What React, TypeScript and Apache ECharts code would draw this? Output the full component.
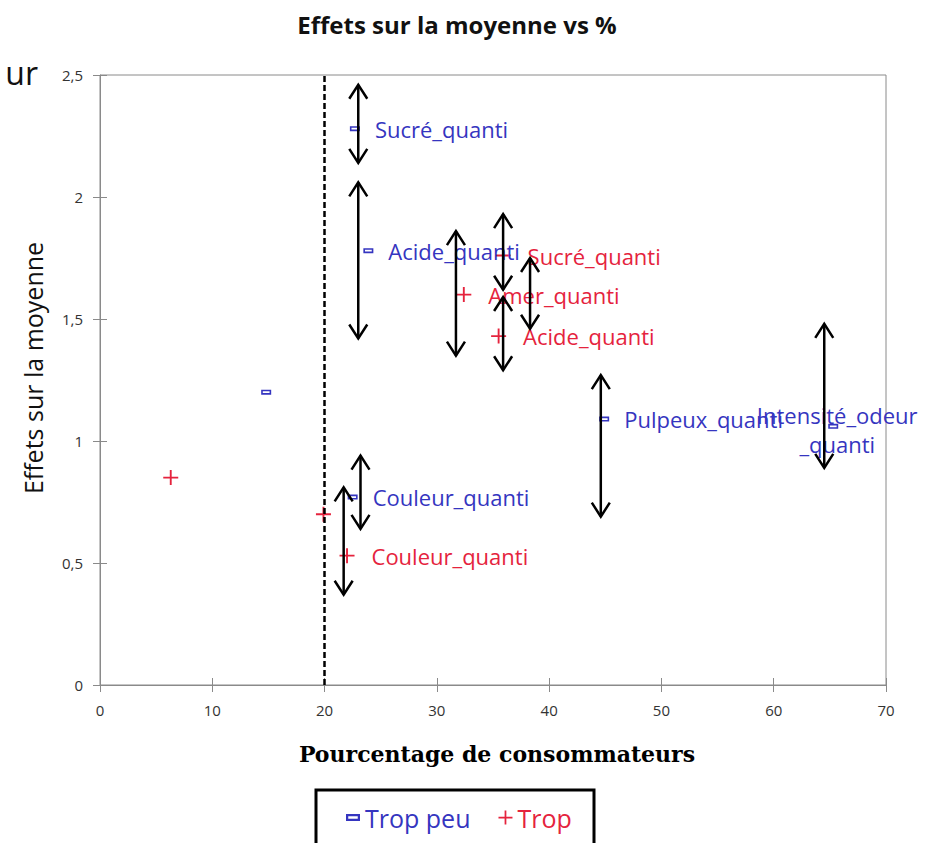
import React, { useEffect, useRef } from "react";
import * as echarts from "echarts";

// ---- Data ----
const tropPeuNames = ["", "Sucré_quanti", "Acide_quanti", "Couleur_quanti", "Pulpeux_quanti", "Intensité_odeur\n_quanti"];
const tropPeuX = [14.8, 22.7, 23.9, 22.5, 44.9, 65.3];
const tropPeuY = [1.2, 2.28, 1.78, 0.77, 1.09, 1.06];

const tropNames = ["", "", "Couleur_quanti", "Amer_quanti", "Acide_quanti", "Sucré_quanti"];
const tropX = [6.3, 19.9, 22.0, 32.4, 35.5, 35.9];
const tropY = [0.85, 0.7, 0.53, 1.6, 1.43, 1.76];

// double-headed arrows: x, top value, bottom value
const arrowX = [23.0, 23.0, 31.7, 35.9, 35.9, 38.3, 44.6, 64.5, 23.2, 21.7];
const arrowTop = [2.46, 2.06, 1.86, 1.93, 1.59, 1.75, 1.27, 1.48, 0.94, 0.81];
const arrowBottom = [2.14, 1.42, 1.35, 1.62, 1.29, 1.46, 0.69, 0.89, 0.64, 0.37];

const thresholdX = 20;

const seriesNames = ["Trop peu", "Trop"];
const xMin = 0, xMax = 70, xStep = 10;
const yMin = 0, yMax = 2.5, yStep = 0.5;

const BLUE = "#3535c0";
const RED = "#e5233d";
const RECT_PATH = "path://M0,0h10v5h-10z M1.6,1.6v1.8h6.8v-1.8z";
const PLUS_PATH = "path://M0,7h16v2h-16z M7,0h2v16h-2z";

export default function App() {
  const ref = useRef<HTMLDivElement>(null);

  useEffect(() => {
    if (!ref.current) return;
    const chart = echarts.init(ref.current, null, { renderer: "svg" });

    const tropPeuData = tropPeuX.map((x, i) => {
      const item: any = { name: tropPeuNames[i], value: [x, tropPeuY[i]] };
      if (tropPeuNames[i].indexOf("\n") >= 0) {
        item.label = { position: "inside", offset: [4, 3], align: "center", lineHeight: 29 };
      }
      return item;
    });
    const tropData = tropX.map((x, i) => ({ name: tropNames[i], value: [x, tropY[i]] }));
    const arrowData = arrowX.map((x, i) => [x, arrowTop[i], arrowBottom[i]]);

    const axisCommon = {
      axisLine: { show: true, lineStyle: { color: "#8a8a8a", width: 1 } },
      splitLine: { show: false },
    };

    chart.setOption({
      animation: false,
      textStyle: { fontFamily: "Open Sans" },
      title: {
        text: "Effets sur la moyenne vs %",
        left: 452,
        textAlign: "center",
        top: 7,
        textStyle: { fontFamily: "Open Sans", fontWeight: "bold", fontSize: 24, color: "#111" },
      },
      grid: {
        left: 100,
        top: 75,
        width: 786,
        height: 610,
        show: true,
        borderColor: "#8a8a8a",
        borderWidth: 1,
        backgroundColor: "transparent",
      },
      legend: {
        left: 346,
        top: 805,
        padding: 0,
        itemWidth: 14,
        itemHeight: 14,
        itemGap: 28,
        selectedMode: false,
        textStyle: { fontSize: 25, fontFamily: "Open Sans" },
        data: [
          { name: seriesNames[0], icon: RECT_PATH, textStyle: { color: BLUE } },
          { name: seriesNames[1], icon: PLUS_PATH, textStyle: { color: RED } },
        ],
      },
      xAxis: [
        {
          ...axisCommon,
          type: "value",
          min: xMin,
          max: xMax,
          interval: xStep,
          position: "bottom",
          axisTick: { show: true, length: 7, lineStyle: { color: "#8a8a8a" } },
          axisLabel: { margin: 17, fontSize: 15, color: "#333", fontFamily: "Open Sans" },
        },
        {
          type: "value",
          min: xMin,
          max: xMax,
          interval: xStep,
          position: "bottom",
          axisLine: { show: false },
          axisTick: { show: true, inside: true, length: 7, lineStyle: { color: "#8a8a8a" } },
          axisLabel: { show: false },
          splitLine: { show: false },
        },
      ],
      yAxis: [
        {
          ...axisCommon,
          type: "value",
          min: yMin,
          max: yMax,
          interval: yStep,
          position: "left",
          axisTick: { show: true, length: 7, lineStyle: { color: "#8a8a8a" } },
          axisLabel: {
            margin: 17,
            fontSize: 15,
            color: "#333",
            fontFamily: "Open Sans",
            formatter: (v: number) => String(v).replace(".", ","),
          },
        },
        {
          type: "value",
          min: yMin,
          max: yMax,
          interval: yStep,
          position: "left",
          axisLine: { show: false },
          axisTick: { show: true, inside: true, length: 7, lineStyle: { color: "#8a8a8a" } },
          axisLabel: { show: false },
          splitLine: { show: false },
        },
      ],
      series: [
        {
          name: seriesNames[0],
          type: "scatter",
          symbol: RECT_PATH,
          symbolSize: [10, 5],
          itemStyle: { color: BLUE, opacity: 1 },
          z: 3,
          label: {
            show: true,
            position: "right",
            distance: 15,
            color: BLUE,
            fontSize: 22,
            fontFamily: "Open Sans",
            formatter: (p: any) => p.name,
          },
          data: tropPeuData,
          markLine: {
            silent: true,
            symbol: ["none", "none"],
            label: { show: false },
            lineStyle: { color: "#000", type: [6, 3], width: 2.5 },
            data: [{ xAxis: thresholdX }],
          },
        },
        {
          name: seriesNames[1],
          type: "scatter",
          symbol: PLUS_PATH,
          symbolSize: 15,
          itemStyle: { color: RED, opacity: 1 },
          z: 3,
          label: {
            show: true,
            position: "right",
            distance: 17,
            color: RED,
            fontSize: 22,
            fontFamily: "Open Sans",
            formatter: (p: any) => p.name,
          },
          data: tropData,
        },
        {
          type: "custom",
          z: 6,
          silent: true,
          encode: { x: 0, y: [1, 2] },
          renderItem: (params: any, api: any) => {
            const x = api.value(0);
            const top = api.coord([x, api.value(1)]);
            const bot = api.coord([x, api.value(2)]);
            const hw = 9;
            const hh = 14;
            const style = { stroke: "#000", lineWidth: 2.5, fill: "none" };
            return {
              type: "group",
              children: [
                { type: "line", shape: { x1: top[0], y1: top[1], x2: bot[0], y2: bot[1] }, style },
                {
                  type: "polyline",
                  shape: { points: [[top[0] - hw, top[1] + hh], [top[0], top[1]], [top[0] + hw, top[1] + hh]] },
                  style,
                },
                {
                  type: "polyline",
                  shape: { points: [[bot[0] - hw, bot[1] - hh], [bot[0], bot[1]], [bot[0] + hw, bot[1] - hh]] },
                  style,
                },
              ],
            };
          },
          data: arrowData,
        },
      ],
      graphic: [
        {
          type: "text",
          x: 38,
          y: 72,
          style: { text: "ur", fontSize: 32, fontFamily: "Open Sans", fill: "#111", align: "right", verticalAlign: "middle" },
        },
        {
          type: "text",
          x: 33,
          y: 368,
          rotation: Math.PI / 2,
          style: {
            text: "Effets sur la moyenne",
            fontSize: 25,
            fontFamily: "Open Sans",
            fill: "#111",
            align: "center",
            verticalAlign: "middle",
          },
        },
        {
          type: "text",
          x: 497,
          y: 754,
          style: {
            text: "Pourcentage de consommateurs",
            fontSize: 22,
            fontWeight: "bold",
            fontFamily: "DejaVu Serif",
            fill: "#000",
            align: "center",
            verticalAlign: "middle",
          },
        },
        {
          type: "rect",
          shape: { x: 316, y: 790, width: 278, height: 62 },
          style: { fill: "none", stroke: "#000", lineWidth: 3 },
        },
      ],
    });

    return () => chart.dispose();
  }, []);

  return (
    <div
      ref={ref}
      style={{ position: "fixed", left: 0, top: 0, width: 934, height: 843, background: "#fff" }}
    />
  );
}
